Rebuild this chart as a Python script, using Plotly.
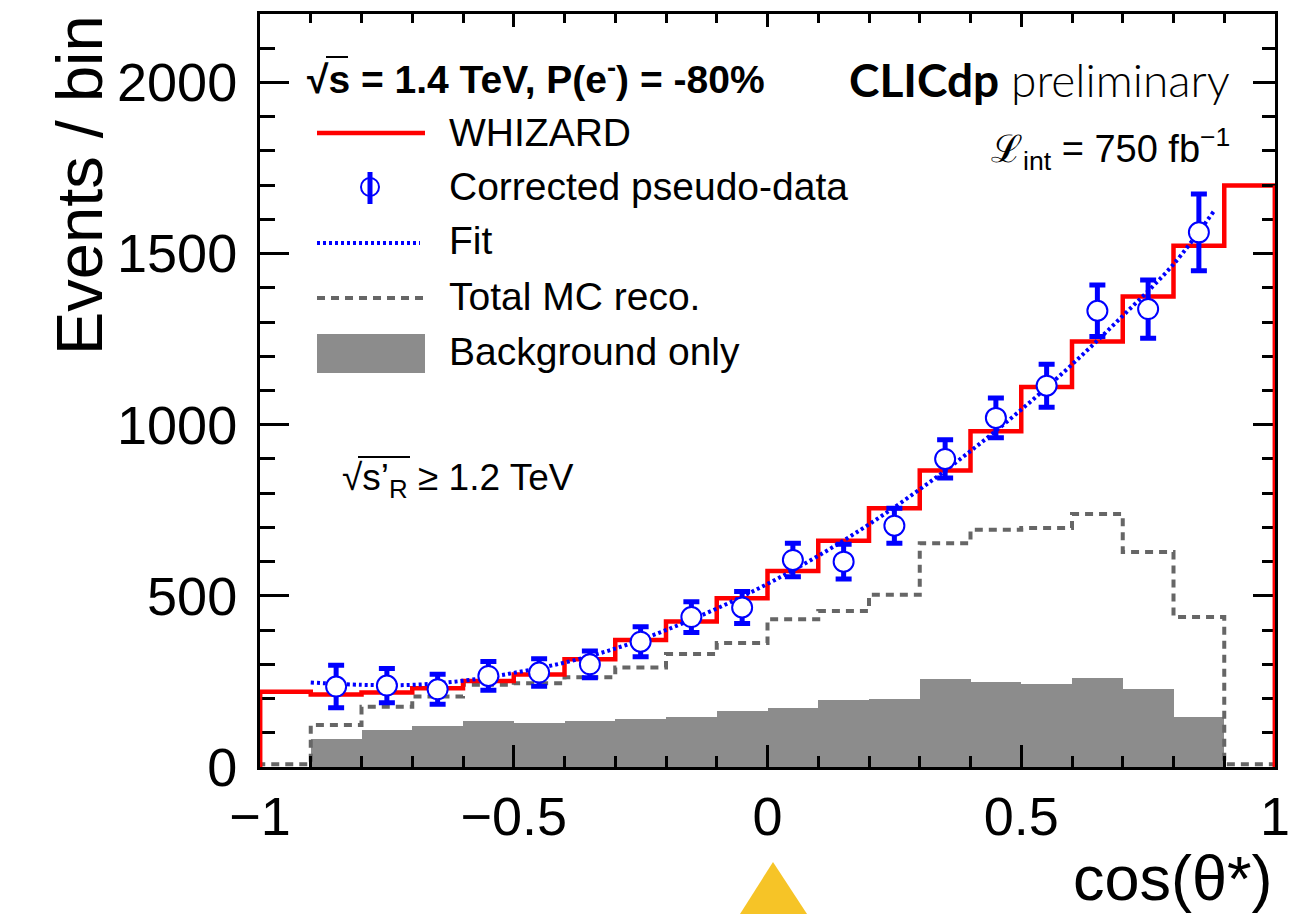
import numpy as np
import plotly.graph_objects as go

# ---- data -------------------------------------------------------------
bin_edges = [-1.0, -0.9, -0.8, -0.7, -0.6, -0.5, -0.4, -0.3, -0.2, -0.1, 0.0,
             0.1, 0.2, 0.3, 0.4, 0.5, 0.6, 0.7, 0.8, 0.9, 1.0]

whizard = [220, 212, 218, 230, 251, 270, 315, 371, 425, 493,
           573, 661, 756, 866, 981, 1110, 1243, 1375, 1523, 1699]

total_mc_reco = [8, 123, 176, 206, 240, 245, 262, 291, 330, 362,
                 432, 456, 503, 654, 693, 698, 739, 628, 438, 8]

background_only = [0, 81, 108, 120, 134, 128, 135, 139, 147, 164,
                   172, 196, 199, 257, 248, 242, 259, 228, 145, 0]

data_x = [-0.85, -0.75, -0.65, -0.55, -0.45, -0.35, -0.25, -0.15, -0.05,
          0.05, 0.15, 0.25, 0.35, 0.45, 0.55, 0.65, 0.75, 0.85]
data_y = [235, 238, 227, 266, 276, 300, 366, 438, 466,
          605, 600, 705, 900, 1020, 1114, 1333, 1338, 1562]
data_err = [62, 50, 44, 42, 40, 39, 44, 45, 47,
            49, 51, 51, 56, 58, 63, 75, 85, 112]

fit_x = [-0.9, -0.8, -0.7, -0.6, -0.5, -0.4, -0.3, -0.2, -0.1, 0.0,
         0.1, 0.2, 0.3, 0.4, 0.5, 0.6, 0.7, 0.8, 0.88]
fit_y = [247, 240, 240, 252, 275, 305, 346, 400, 463, 535,
         617, 709, 811, 923, 1044, 1176, 1318, 1469, 1625]

x_ticks = [-1, -0.5, 0, 0.5, 1]
y_ticks = [0, 500, 1000, 1500, 2000]

# ---- page geometry (pixels) ------------------------------------------
W, H = 1308, 914
L, R, T, B = 260, 1275, 14, 767


def px(x):
    return (x - L) / (R - L)


def py(y):
    return (B - y) / (B - T)


RED = "#ff0000"
BLUE = "#0000ff"
GREY_LINE = "#666666"
GREY_FILL = "#8c8c8c"
FONT = "Liberation Sans, Arial, Helvetica, sans-serif"

edges = np.array(bin_edges)
centers = 0.5 * (edges[:-1] + edges[1:])
widths = np.diff(edges)


def step_xy(values):
    """Closed step outline of a histogram, starting and ending at zero."""
    xs = np.concatenate([[edges[0]], edges, [edges[-1]]])
    ys = np.concatenate([[0], values, [values[-1]], [0]])
    return xs, ys


fig = go.Figure()

# background only: filled histogram
fig.add_trace(go.Bar(
    x=centers, y=background_only, width=widths,
    marker=dict(color=GREY_FILL, line=dict(width=0)),
    showlegend=False, hoverinfo="skip"))

# total MC reconstructed: dashed step histogram
mx, my = step_xy(total_mc_reco)
fig.add_trace(go.Scatter(
    x=mx, y=my, mode="lines",
    line=dict(color=GREY_LINE, width=4, dash="8px,6px", shape="hv"),
    showlegend=False, hoverinfo="skip"))

# WHIZARD prediction: red step histogram
wx, wy = step_xy(whizard)
fig.add_trace(go.Scatter(
    x=wx, y=wy, mode="lines", line=dict(color=RED, width=4.5, shape="hv"),
    showlegend=False, hoverinfo="skip"))

# fit curve
fig.add_trace(go.Scatter(
    x=fit_x, y=fit_y, mode="lines",
    line=dict(color=BLUE, width=4, dash="3px,3px", shape="spline"),
    showlegend=False, hoverinfo="skip"))

# corrected pseudo-data
fig.add_trace(go.Scatter(
    x=data_x, y=data_y, mode="markers",
    marker=dict(symbol="circle", size=20, color="white", line=dict(color=BLUE, width=2)),
    error_y=dict(type="data", array=data_err, visible=True, color=BLUE, thickness=5, width=8),
    showlegend=False, hoverinfo="skip"))

# helper trace so the mirrored top/right axes are drawn
fig.add_trace(go.Scatter(x=[0], y=[0], xaxis="x2", yaxis="y2", mode="markers",
                         marker=dict(opacity=0), showlegend=False, hoverinfo="skip"))

axis_common = dict(showgrid=False, zeroline=False, ticks="inside", tickcolor="black",
                   tickwidth=2.5)

fig.update_layout(
    width=W, height=H,
    margin=dict(l=L, r=W - R, t=T, b=H - B),
    paper_bgcolor="white", plot_bgcolor="white",
    bargap=0,
    xaxis=dict(range=[-1, 1], tickvals=x_ticks, ticklen=22,
               showline=True, linewidth=3, linecolor="black", mirror=True,
               tickfont=dict(family=FONT, size=54, color="black"),
               ticklabelstandoff=0,
               minor=dict(ticks="inside", dtick=0.1, tick0=-1, ticklen=11,
                          tickwidth=2.5, tickcolor="black", showgrid=False),
               **axis_common),
    yaxis=dict(range=[0, 2200], tickvals=y_ticks, ticklen=29,
               showline=True, linewidth=3, linecolor="black", mirror=True,
               tickfont=dict(family=FONT, size=54, color="black"),
               ticklabelstandoff=9,
               minor=dict(ticks="inside", dtick=100, tick0=0, ticklen=15,
                          tickwidth=2.5, tickcolor="black", showgrid=False),
               **axis_common),
    xaxis2=dict(range=[-1, 1], overlaying="x", side="top", anchor="y2",
                tickvals=x_ticks, ticklen=13, showticklabels=False, showline=False,
                minor=dict(ticks="inside", dtick=0.1, tick0=-1, ticklen=9,
                           tickwidth=2.5, tickcolor="black", showgrid=False),
                **axis_common),
    yaxis2=dict(range=[0, 2200], overlaying="y", side="right", anchor="x2",
                tickvals=y_ticks, ticklen=22, showticklabels=False, showline=False,
                minor=dict(ticks="inside", dtick=100, tick0=0, ticklen=13,
                           tickwidth=2.5, tickcolor="black", showgrid=False),
                **axis_common),
)

shapes = []
# red outer edges of the WHIZARD histogram sit on top of the frame
for xe, v in ((edges[0], whizard[0]), (edges[-1], whizard[-1])):
    shapes.append(dict(type="line", xref="x", yref="y", x0=xe, x1=xe, y0=0, y1=v,
                       line=dict(color=RED, width=4.5), layer="above"))

# legend symbols
shapes += [
    dict(type="line", xref="paper", yref="paper", x0=px(317), x1=px(425), y0=py(133), y1=py(133),
         line=dict(color=RED, width=4.5)),
    dict(type="line", xref="paper", yref="paper", x0=px(370), x1=px(370), y0=py(172), y1=py(204),
         line=dict(color=BLUE, width=5)),
    dict(type="circle", xref="paper", yref="paper", x0=px(361), x1=px(379), y0=py(178), y1=py(196),
         line=dict(color=BLUE, width=2), fillcolor="rgba(0,0,0,0)"),
    dict(type="line", xref="paper", yref="paper", x0=px(317), x1=px(420), y0=py(243), y1=py(243),
         line=dict(color=BLUE, width=4, dash="3px,3px")),
    dict(type="line", xref="paper", yref="paper", x0=px(317), x1=px(425), y0=py(298), y1=py(298),
         line=dict(color=GREY_LINE, width=4, dash="8px,6px")),
    dict(type="rect", xref="paper", yref="paper", x0=px(317), x1=px(425), y0=py(334), y1=py(373),
         line=dict(width=0), fillcolor=GREY_FILL),
    # overbars of the square roots
    dict(type="line", xref="paper", yref="paper", x0=px(326), x1=px(348), y0=py(57), y1=py(57),
         line=dict(color="black", width=2)),
    dict(type="line", xref="paper", yref="paper", x0=px(358), x1=px(410), y0=py(457), y1=py(457),
         line=dict(color="black", width=2)),
    # marker below the axis
    dict(type="path", xref="paper", yref="paper",
         path=f"M {px(740)} {py(914)} L {px(773)} {py(862)} L {px(807)} {py(914)} Z",
         line=dict(width=0), fillcolor="#f6c427"),
]
fig.update_layout(shapes=shapes)


def label(text, x, y, size, xanchor="left", family=FONT, **kw):
    return dict(text=text, x=px(x), y=py(y), xref="paper", yref="paper",
                xanchor=xanchor, yanchor="middle", showarrow=False,
                font=dict(family=family, size=size, color="black"), **kw)


annotations = [
    label("<b>√s = 1.4 TeV, P(e<sup>-</sup>) = -80%</b>", 305, 76, 39),
    label("WHIZARD", 447, 133, 39),
    label("Corrected pseudo-data", 447, 186, 39),
    label("Fit", 447, 241, 39),
    label("Total MC reco.", 447, 296, 39),
    label("Background only", 447, 351, 39),
    label("<b>CLICdp</b> <span style='font-weight:300'>preliminary</span>", 1232, 79, 46,
          xanchor="right", family="Lato, sans-serif"),
    label("ℒ<sub>int</sub> = 750 fb<sup>−1</sup>", 1232, 149, 38, xanchor="right"),
    label("√s’<sub>R</sub> ≥ 1.2 TeV", 340, 480, 37),
    label("cos(θ*)", 1275, 878, 63, xanchor="right"),
    dict(text="Events / bin", x=px(79), y=py(13), xref="paper", yref="paper",
         xanchor="center", yanchor="top", textangle=-90, showarrow=False,
         font=dict(family=FONT, size=65, color="black")),
]
fig.update_layout(annotations=annotations)

fig.write_html("out.html")
